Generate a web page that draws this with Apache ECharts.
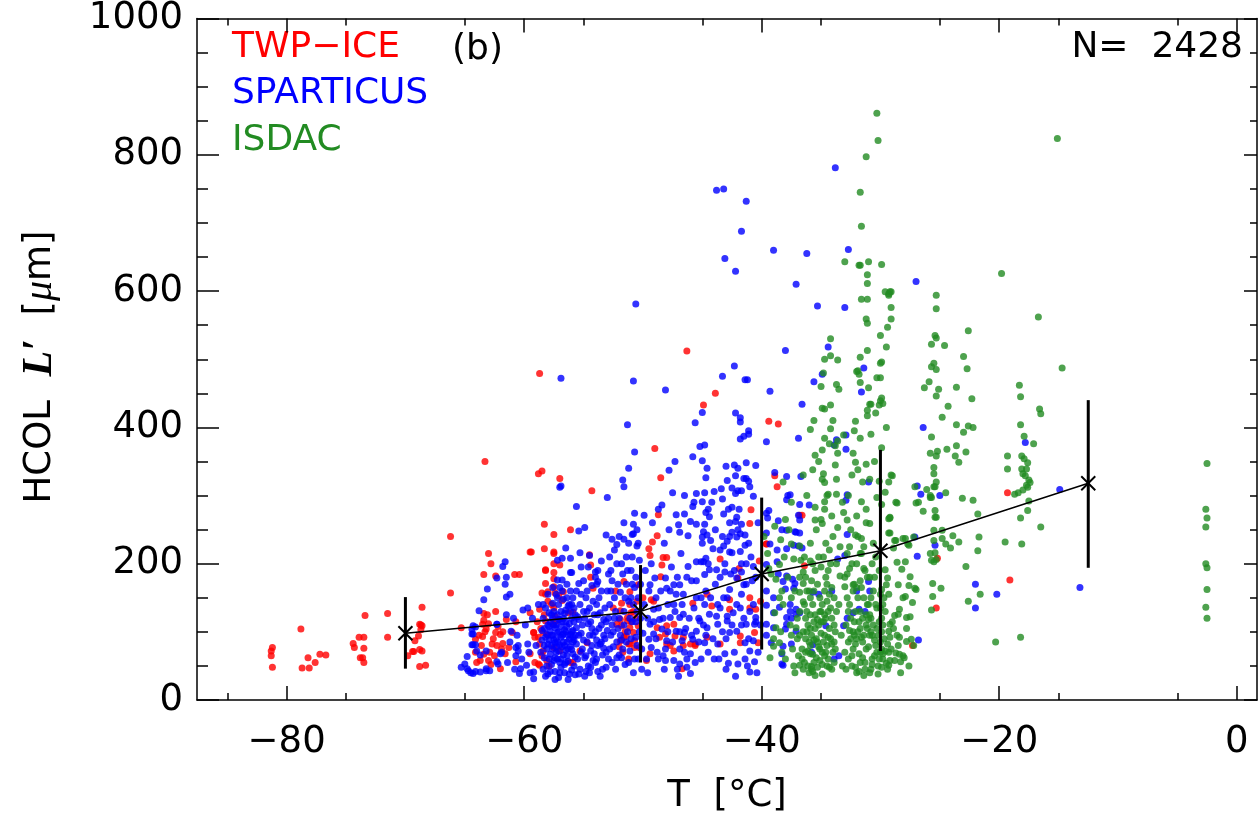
<!DOCTYPE html>
<html><head><meta charset="utf-8">
<script src="https://cdn.jsdelivr.net/npm/echarts@6/dist/echarts.min.js"></script>
<style>html,body{margin:0;padding:0;background:#fff}#c{width:1258px;height:821px}</style>
</head><body><div id="c"></div>
<script>
// ---- data: [T (°C), L' (µm)] ----
const twpIce = [
[-81.2,77],[-81.3,72],[-81.3,65],[-81.2,48],
[-78.8,104],[-78.2,62],[-78.7,47],[-78.1,47],[-77.6,55],[-77.2,67],[-76.7,66],
[-73.4,124],[-73.9,92],[-73.5,92],[-74.4,83],[-74.3,77],[-73.5,76],[-73.8,62],[-73.6,62],[-73.5,55],
[-71.5,127],[-71.5,92],
[-68.6,136],[-68.7,110],[-68.8,111],[-68.6,109],[-68.7,103],[-68.9,94],[-69.2,87],[-69.4,71],[-68.8,74],[-68.6,72],[-69.8,65],[-69.3,71],[-68.8,49],[-68.3,51],
[-66.2,240],[-66.2,157],[-65.3,106],
[-58.7,479],[-63.3,350],[-58.8,332],[-58.5,336],[-57.0,325],[-54.3,307],
[-58.3,258],[-57.5,243],[-56.1,250],[-63.0,215],[-62.8,200],[-63.4,184],[-62.4,182],[-60.8,184],[-60.4,184],
[-59.5,217],[-58.3,222],[-57.5,215],[-57.5,200],[-57.0,198],[-58.2,190],[-57.5,187],[-57.5,178],[-58.2,171],[-58.5,157],[-58.2,155],[-57.5,166],[-57.1,153],[-54.4,198],[-54.4,180],[-54.2,164],
[-63.4,127],[-63.1,125],[-63.4,117],[-62.4,130],[-63.5,111],[-63.0,112],[-63.2,104],[-61.5,118],[-60.7,115],[-62.4,99],[-62.0,96],[-64.1,89],[-63.5,93],[-62.7,82],[-62.3,80],[-61.8,83],[-61.9,75],[-61.3,77],[-64.1,70],[-63.4,67],[-62.5,65],[-61.6,68],[-64.0,55],[-63.0,58],[-62.0,46],[-61.0,99],
[-59.5,128],[-58.7,133],[-59.2,99],[-59.1,92],[-58.4,99],[-58.7,82],[-58.4,72],[-58.1,58],[-58.2,116],[-57.6,111],[-58.0,145],[-57.5,135],[-57.4,123],[-57.3,116],[-56.7,159],[-56.8,146],[-55.9,129],[-56.3,128],
[-52.5,135],[-51.9,131],[-51.8,142],[-51.1,140],[-51.3,121],[-51.0,128],[-51.8,109],[-51.1,106],[-51.4,94],[-50.8,99],[-51.2,82],[-50.7,77],[-51.2,60],[-54.7,84],[-55.3,72],[-55.9,55],[-58.8,53],[-60.7,56],
[-46.3,512],[-43.9,450],[-44.9,433],[-49.0,369],[-48.5,326],[-39.4,409],[-38.6,405],[-38.9,329],[-38.7,313],[-48.7,272],[-41.0,259],[-40.9,279],[-48.8,241],[-49.2,232],[-49.5,222],[-49.4,212],[-48.3,209],[-48.0,209],[-48.4,198],[-48.5,181],[-43.5,207],[-41.9,193],[-42.0,179],[-40.2,204],[-39.6,229],[-50.4,169],[-50.0,150],[-49.3,147],[-50.8,130],[-50.4,109],[-50.7,87],[-48.0,109],[-47.4,111],[-48.1,97],[-47.3,94],[-47.7,80],[-46.6,80],[-46.0,82],[-45.6,80],[-46.7,46],[-45.8,142],[-44.6,155],[-44.2,138],[-42.7,133],[-42.7,147],[-41.0,150],[-41.0,135],[-40.5,133],[-40.1,145],[-41.8,94],[-40.6,99],[-40.3,84],
[-19.3,304],[-25.2,208],[-19.1,176],[-25.3,135],[-27.3,80],[-36.4,197],[-36.8,271],[-39.6,229],
[-59.2,99],[-58.8,92],[-59.5,68],[-59.1,55],[-58.7,51],[-57.5,77],[-57.0,72],[-56.1,55],[-54.5,213],[-57.5,217],[-58.2,191],[-59.4,217],[-58.0,159],[-57.4,157],
[-51.6,174],[-51.1,159],[-50.5,145],[-51.3,116],[-51.6,92],[-51.1,82],[-50.3,77],[-49.7,58],[-49.4,68],[-52.2,111],[-51.9,87],[-49.1,145],[-48.8,106],[-48.0,82],[-48.6,92],[-47.4,72],[-46.6,92],[-45.6,82],[-44.6,92],[-43.5,82],[-41.8,84],[-36.6,271],
[-63.8,95],[-63.6,80],[-63.3,100],[-62.9,70],[-62.6,90],[-62.2,108],[-61.8,100],[-63.7,58],[-62.8,52],
[-58.9,115],[-58.6,105],[-58.3,125],[-58.0,95],[-57.7,140],[-58.5,65],[-57.9,50],
[-52.3,160],[-51.9,118],[-51.5,100],[-51.0,115],[-50.6,120],[-52.0,78],[-51.7,70]
];
const sparticus = [
[-43.8,748],[-43.2,750],[-41.3,732],[-41.7,688],[-43.1,648],[-42.2,629],[-39.0,660],[-36.2,655],[-33.8,781],[-37.1,610],[-32.7,661],[-27.0,614],
[-50.6,581],[-35.3,578],[-33.0,576],[-56.9,472],[-50.8,468],[-48.1,455],[-42.3,490],[-43.3,475],[-41.4,470],[-41.2,470],[-39.3,453],[-38.0,513],[-34.4,518],[-34.9,478],[-35.6,467],[-36.6,434],[-45.0,422],[-45.6,407],[-42.2,421],[-41.8,414],[-41.8,408],[-51.3,404],[-45.2,372],[-44.8,374],[-41.1,395],[-41.1,390],[-41.5,387],[-41.8,383],[-39.6,379],[-36.9,384],[-32.9,389],[-33.9,374],[-32.9,368],[-33.7,382],[-31.4,487],[-31.6,452],[-50.7,364],[-51.2,340],[-45.8,357],[-45.0,351],[-44.6,340],[-47.3,350],[-47.8,337],[-51.7,323],[-51.6,313],[-57.0,312],[-56.9,314],[-53.0,297],[-47.5,304],[-45.5,303],[-44.8,304],[-44.0,306],[-43.0,343],[-42.3,345],[-42.0,340],[-41.3,348],[-40.5,344],
[-44.7,326],[-42.9,322],[-42.2,329],[-41.5,325],[-41.3,325],[-41.1,321],[-41.0,313],[-42.5,311],[-42.0,307],[-41.7,307],[-42.2,303],[-40.7,299],[-43.3,295],[-45.0,291],
[-38.9,334],[-37.9,328],[-36.7,328],[-31.0,320],[-32.8,301],[-37.8,300],[-37.6,301],
[-26.4,400],[-17.8,378],[-26.9,314],[-26.6,302],[-25.0,300],[-14.9,309],[-27.1,239],[-25.4,227],[-26.9,211],[-22.0,170],[-20.2,155],[-22.0,135],[-13.2,165],[-26.8,88],
[-37.9,294],[-36.0,286],[-36.8,287],[-32.9,293],
[-39.6,274],[-39.5,267],[-38.6,263],[-39.6,245],[-38.3,250],[-37.2,247],[-36.8,245],[-36.9,271],[-36.8,264],
[-38.7,220],[-39.3,229],[-36.9,226],[-36.6,223],[-32.8,243],[-33.0,212],[-33.6,207],
[-39.6,199],[-38.6,185],[-37.9,182],[-37.4,177],[-37.2,171],[-38.0,163],
[-39.6,160],[-39.0,150],[-39.6,139],[-39.0,128],[-38.5,136],[-37.6,130],[-37.1,133],[-36.8,128],[-37.5,120],[-37.9,111],
[-39.6,111],[-39.0,106],[-39.6,95],[-39.2,84],[-38.2,79],[-38.3,68],[-38.2,51],
[-35.7,158],[-35.2,155],[-34.1,160],[-31.0,174],[-30.9,160],[-32.0,160],[-31.3,130],[-31.8,133],[-32.3,128],
[-33.5,65],[-33.9,60],[-35.7,81],[-35.8,70],[-34.6,109],[-32.8,120],[-33.1,109],
[-55.6,284],[-54.9,253],[-55.4,248],[-53.1,242],[-52.6,236],[-52.2,228],[-51.6,236],[-50.7,274],[-50.8,258],[-50.9,243],[-50.5,226],[-52.8,210],[-53.5,204],
[-56.5,223],[-57.2,205],[-56.8,208],[-57.2,176],[-56.8,176],[-56.1,208],[-56.1,187],[-56.0,187],[-55.3,216],[-55.2,195],[-55.4,171],[-54.5,212],[-54.0,188],[-53.8,174],
[-61.6,203],[-61.8,196],[-62.3,179],[-61.5,180],[-61.6,170],[-63.1,163],[-63.4,147],[-63.8,131],[-61.5,151],[-61.2,155],
[-61.5,125],[-62.3,111],[-64.1,107],[-64.4,97],[-64.3,81],[-64.8,64],[-65.3,48],[-64.7,43],[-64.3,39],[-63.7,41],[-63.2,46],[-62.9,43],[-62.2,53],[-61.9,70],[-61.1,101],[-60.5,80],[-60.7,65],[-60.4,39],[-59.7,82],[-59.8,51],[-59.2,41],[-59.2,31],
[-45.7,290],[-44.5,280],[-44.7,275],[-44.4,269],[-44.8,258],[-48.4,286],[-48.7,280],[-49.9,271],[-50.8,244],
[-47.2,272],[-46.5,273],[-46.0,262],[-45.5,258],[-44.9,247],[-45.0,239],[-44.6,242],[-47.0,257],[-46.9,246],[-46.2,241],[-45.8,284],
[-43.2,273],[-42.5,283],[-42.7,260],[-42.1,268],[-42.2,262],[-41.7,258],[-42.5,246],[-42.1,239],[-41.4,242],[-41.4,227],[-41.8,244],
[-42.9,233],[-43.2,226],[-42.7,217],[-42.5,216],[-41.8,218],[-41.3,200],[-40.7,196],[-41.7,188],[-42.1,179],[-41.5,169],[-41.7,155],[-42.7,162],[-43.1,188],[-43.8,191],[-44.4,191],[-44.8,184],[-45.1,203],[-44.9,203],
[-44.1,222],[-43.5,220],[-44.3,234],[-44.7,208],[-45.5,203],[-46.2,196],[-46.9,169],[-46.6,155],[-45.5,150],[-44.8,140],[-44.4,126],[-45.2,116],[-44.6,106],[-43.8,123],[-43.5,135],[-43.2,150],[-43.7,111],[-42.9,116],[-42.7,99],[-42.1,101],
[-44.8,84],[-43.7,82],[-44.5,70],[-43.1,68],[-42.8,54],[-42.0,53],[-41.0,41],[-40.6,56],[-41.0,72],[-41.4,84],[-40.7,87],[-41.3,111],[-40.5,121],[-40.6,111],[-41.0,130],[-41.8,135],[-42.4,128],[-42.9,123],
[-49.4,169],[-49.0,179],[-48.1,179],[-48.0,164],[-47.4,169],[-47.2,155],[-47.4,140],[-46.6,126],[-46.9,121],[-47.7,121],[-48.6,118],[-49.1,133],[-49.4,111],[-48.4,104],[-49.1,97],[-49.5,89],[-49.3,77],[-48.8,70],[-48.3,65],[-48.1,58],[-47.4,58],[-46.9,53],[-46.3,60],[-46.3,48],[-46.0,39],[-46.0,68],[-46.9,75],[-46.7,87],[-45.8,89],[-45.5,101],[-46.5,99],[-47.2,101],[-48.0,87],
[-39.4,278],[-37.9,249],[-37.1,246],[-37.3,227],[-37.9,222],[-38.7,203],[-38.2,174],[-37.3,164],[-37.6,140],[-37.1,126],[-37.9,121],[-38.0,104],[-37.1,101],[-38.3,53],[-37.5,82],
[-64.3,109],[-64.4,104],[-64.3,97],[-60.1,132],[-59.7,135],[-64.4,81],[-64.1,81],[-64.0,72],[-63.7,66],[-65.0,53],[-64.8,46],[-64.5,40],[-64.1,42],[-63.2,43],[-62.3,56],[-62.0,68],[-63.2,72],[-60.7,77],[-60.3,46],[-60.5,72],[-62.3,111],
[-58.3,62],[-58.1,75],[-57.9,88],[-57.8,101],[-57.6,95],[-57.5,110],[-57.4,84],[-57.3,70],[-57.2,125],[-57.1,140],[-57.0,118],[-56.9,92],[-56.8,78],[-56.7,66],[-56.6,103],[-56.5,132],[-56.4,85],[-56.3,57],[-56.2,112],[-56.1,96],[-56.0,74],[-55.9,150],[-55.8,88],[-55.7,63],[-55.6,106],
[-58.4,45],[-58.0,38],[-57.7,52],[-57.4,42],[-57.1,33],[-56.9,48],[-56.6,40],[-56.3,30],[-56.0,44],[-55.7,37],
[-57.9,128],[-57.6,142],[-57.3,155],[-57.0,165],[-56.7,148],[-56.4,170],[-56.1,160],[-55.8,135],
[-57.8,67],[-57.5,58],[-57.2,99],[-57.0,81],[-56.8,115],[-56.5,73],[-56.2,89],[-55.9,102],[-57.6,120],[-57.3,90],[-56.9,60],[-56.6,127],[-56.3,138],[-56.0,120],[-57.4,106],[-57.1,72],[-56.7,97],[-56.4,108],[-55.6,82],[-55.5,122],[-58.2,92],[-58.0,110],[-57.7,80],[-57.2,60],[-56.5,55],[-55.9,68],
[-55.3,45],[-55.2,98],[-55.0,130],[-54.9,62],[-54.8,150],[-54.7,85],[-54.6,112],[-54.5,40],[-54.4,72],[-54.3,168],[-54.2,95],[-54.1,125],[-54.0,55],[-53.9,140],[-53.8,80],[-53.7,105],[-53.6,35],[-53.5,160],[-53.4,66],[-53.3,118],[-53.2,90],[-53.1,48],[-55.1,75],[-54.8,42],[-54.5,135],[-54.2,58],[-53.9,88],[-53.6,128],[-53.3,76],[-53.0,102],[-55.4,118],[-54.0,180],[-53.8,190],[-54.6,195],[-55.0,175],
[-52.9,60],[-52.8,140],[-52.7,95],[-52.6,175],[-52.5,78],[-52.4,120],[-52.3,45],[-52.2,200],[-52.1,105],[-52.0,66],[-51.9,158],[-51.8,88],[-51.7,185],[-51.6,130],[-51.5,52],[-51.4,210],[-51.3,100],[-51.2,145],[-51.1,72],[-51.0,190],[-50.9,115],[-50.8,40],[-50.7,165],[-50.6,92],[-50.5,130],[-50.4,60],[-50.3,205],[-52.6,110],[-52.2,85],[-51.8,62],[-51.4,170],[-51.0,150],[-50.6,180],[-52.9,185],[-52.4,220],[-51.2,230],[-50.5,250],[-50.2,120],[-50.1,75],[-50.0,98],
[-49.8,190],[-49.6,120],[-49.2,260],[-48.9,150],[-48.7,60],[-48.2,230],[-47.9,140],[-47.6,195],[-47.1,45],[-46.8,215],[-46.4,105],[-45.9,175],[-45.3,120],[-45.1,60],[-44.7,95],[-47.8,250],[-46.5,300],[-45.0,230],
[-43.9,170],[-43.6,60],[-43.3,240],[-43.0,90],[-42.6,185],[-42.3,70],[-42.0,250],[-41.7,110],[-41.4,60],[-41.1,230],[-40.8,175],[-40.5,115],[-40.3,260],[-44.2,290],[-43.4,310],[-42.8,280],
[-58.6,70],[-58.5,88],[-58.4,120],[-58.3,105],[-58.2,135],[-58.1,50],[-58.0,82],[-57.9,60],[-57.8,115],[-57.7,95],[-57.6,75],[-57.5,130],[-57.4,62],[-57.3,110],[-57.2,85],[-57.1,100],[-57.0,55],[-56.9,130],[-56.8,95],[-56.7,120],[-56.6,80],[-56.5,100],[-56.4,65],[-56.3,95],[-56.2,140],[-56.1,78],[-56.0,100],[-55.9,85],[-55.8,115],[-55.7,95],
[-58.5,102],[-58.3,80],[-58.1,96],[-57.9,108],[-57.7,125],[-57.5,88],[-57.3,78],[-57.1,118],[-56.9,108],[-56.7,85],[-56.5,115],[-56.3,75],[-56.1,130],[-55.9,92],[-55.7,125],
[-58.4,140],[-58.0,155],[-57.6,165],[-57.2,150],[-56.8,160],[-56.4,150],[-56.0,140],[-55.6,160],
[-58.2,35],[-57.8,42],[-57.4,30],[-57.0,40],[-56.6,52],[-56.2,38],[-55.8,50],
[-55.5,60],[-55.4,95],[-55.3,140],[-55.2,70],[-55.1,110],[-55.0,88],[-54.9,120],[-54.8,65],[-54.7,160],[-54.6,50],[-54.5,95],[-54.4,115],[-54.3,80],[-54.2,145],[-54.1,68],[-54.0,100],[-53.9,60],[-53.8,125],[-53.7,150],[-53.6,82],[-53.5,110],[-53.4,45],[-53.3,95],[-53.2,135],[-53.1,70],[-53.0,160],
[-55.2,155],[-54.7,130],[-54.3,105],[-53.9,170],[-53.5,85],[-53.1,115],[-55.4,38],[-54.9,35],[-54.4,48],[-53.8,42],
[-52.9,120],[-52.8,75],[-52.7,160],[-52.6,55],[-52.5,100],[-52.4,150],[-52.3,130],[-52.2,62],[-52.1,170],[-52.0,120],[-51.9,95],[-51.8,200],[-51.7,75],[-51.6,110],[-51.5,150],[-51.4,85],[-51.3,190],[-51.2,55],[-51.1,120],[-51.0,90],[-50.9,170],[-50.8,140],[-50.7,60],[-50.6,115],[-50.5,80],[-50.4,150],[-50.3,100],[-50.2,170],[-50.1,45],[-52.7,190],[-52.0,240],[-51.6,260],[-50.9,210],[-50.4,230],
[-49.9,140],[-49.7,60],[-49.5,160],[-49.3,200],[-49.1,115],[-48.9,90],[-48.7,135],[-48.5,160],[-48.3,120],[-48.1,75],[-47.9,100],[-47.7,160],[-47.5,85],[-47.3,130],[-47.1,180],[-46.9,100],[-46.7,140],[-46.5,70],[-46.3,180],[-46.1,120],[-45.9,95],[-45.7,135],[-45.5,175],[-45.3,85],[-45.1,150],[-49.6,40],[-48.2,45],[-47.0,35],[-45.6,55],
[-44.9,110],[-44.7,160],[-44.5,200],[-44.3,150],[-44.1,90],[-43.9,250],[-43.7,140],[-43.5,180],[-43.3,100],[-43.1,200],[-42.9,150],[-42.7,240],[-42.5,110],[-42.3,190],[-42.1,140],[-41.9,280],[-41.7,200],[-41.5,120],[-41.3,170],[-41.1,90],[-40.9,210],[-40.7,140],[-40.5,180],[-40.3,70],[-40.1,110],[-44.0,60],[-43.0,45],[-42.2,35],[-41.2,50],[-40.4,40],
[-61.2,85],[-60.9,120],[-60.6,95],[-60.2,60],[-59.9,110],[-59.6,70],[-59.3,120],[-59.0,80],[-58.8,140],[-61.4,55],[-60.8,45],[-59.5,40]
];
const isdac = [
[-30.3,861],[-30.2,821],[-31.2,797],[-31.7,745],[-31.6,695],[-33.0,643],[-31.7,638],[-31.0,643],[-29.9,639],[-31.1,624],[-31.1,611],[-15.1,824],[-19.8,626],
[-29.6,599],[-29.2,599],[-29.1,599],[-29.3,594],[-29.1,576],[-29.1,559],[-29.4,547],[-30.0,535],[-29.5,518],[-29.9,496],[-30.0,473],[-29.9,443],[-29.8,435],
[-25.3,594],[-25.3,574],[-25.4,535],[-25.3,531],[-25.7,522],[-24.6,520],[-22.6,542],[-23.0,504],[-22.7,486],[-25.5,494],[-25.7,489],[-25.3,485],[-25.9,467],[-26.3,458],[-25.1,456],[-25.3,446],[-23.6,459],[-24.3,431],[-24.8,415],[-22.3,442],
[-16.7,562],[-14.7,487],
[-18.3,462],[-18.2,445],[-16.6,427],[-16.5,420],[-18.2,404],[-17.9,387],[-17.1,376],[-19.3,358],[-19.3,339],[-18.1,358],[-17.9,354],[-17.6,348],[-18.1,339],[-17.7,339],[-18.0,332],[-17.8,329],[-17.5,323],[-17.4,319],[-17.6,312],[-18.0,308],[-18.4,304],[-18.7,302],
[-23.6,404],[-22.6,402],[-22.2,400],[-23.0,393],[-25.7,386],[-25.8,362],[-25.2,365],[-25.3,358],[-23.6,373],[-23.7,358],[-22.8,364],[-23.4,349],[-24.4,368],[-25.5,341],[-25.5,332],[-25.3,320],[-26.1,309],[-25.5,313],[-25.8,297],[-24.5,304],[-23.1,296],[-22.2,293],[-29.0,329],[-29.6,305],[-27.1,313],
[-17.7,315],[-17.5,292],[-18.2,267],[-17.6,278],[-16.5,254],[-19.5,232],[-18.1,229],[-20.3,85],[-18.2,92],
[-21.8,273],[-21.7,239],[-21.8,219],[-22.8,196],[-21.6,155],[-22.6,145],
[-23.4,232],[-24.1,223],[-23.9,241],[-24.8,237],[-24.5,229],[-25.6,152],[-25.6,171],[-24.9,164],[-25.7,132],
[-25.4,313],[-25.7,297],[-25.8,300],[-26.4,277],[-26.8,290],[-27.0,289],[-25.4,278],[-25.4,268],[-25.3,268],[-25.5,249],[-24.8,249],[-25.5,234],[-25.4,216],[-25.3,206],[-25.7,205],[-25.5,203],[-25.8,215],
[-27.2,239],[-27.6,227],[-27.9,237],[-28.8,234],[-29.2,245],[-29.3,266],[-29.2,268],[-28.7,290],[-29.9,287],
[-29.6,191],[-29.4,179],[-29.5,169],[-29.3,155],[-29.9,162],[-28.5,169],[-28.6,202],[-27.9,203],[-28.2,192],[-27.5,181],[-27.6,168],[-27.0,162],[-27.1,164],[-28.4,133],[-28.8,124],[-28.5,126],[-27.8,121],[-27.5,122],[-27.3,143],[-28.1,150],[-27.9,152],[-27.4,89],[-27.2,80],[-27.8,86],[-28.4,92],[-29.2,111],[-28.9,105],[-29.3,101],[-29.2,92],[-29.4,82],[-29.3,70],[-28.7,69],[-28.4,67],[-28.1,65],[-28.3,56],[-29.2,58],[-29.3,51],[-29.5,54],[-29.9,48],[-29.8,68],[-30.0,135],
[-2.6,280],[-2.5,267],[-2.6,254],[-2.6,200],[-2.5,194],[-2.5,162],[-2.6,136],[-2.5,120],[-2.5,347],
[-31.8,638],[-31.1,588],[-31.6,588],[-29.3,596],[-31.2,559],[-31.1,553],[-31.1,513],[-31.7,503],[-32.0,482],[-31.8,478],[-31.0,458],[-30.3,473],[-30.0,494],[-30.0,439],[-30.8,434],[-31.1,425],[-31.1,417],[-30.4,421],
[-34.2,530],[-34.2,505],[-34.7,500],[-33.6,499],[-33.7,463],[-33.5,456],[-34.8,480],[-34.2,433],[-34.7,427],[-35.9,397],[-34.2,398],[-33.6,380],[-33.1,389],[-34.7,384],[-34.9,367],[-35.5,359],[-34.3,376],[-33.8,373],[-33.6,362],
[-31.9,483],[-31.7,466],[-30.9,434],[-30.1,433],[-32.1,409],[-32.2,395],[-31.7,384],[-32.3,362],[-32.1,349],[-31.9,338],[-31.2,346],[-30.9,324],[-30.1,321],[-30.3,297],[-29.3,320],[-29.1,330],[-28.6,289],[-29.2,267],[-29.3,245],[-28.7,234],[-28.1,237],[-27.7,229],[-28.9,223],
[-39.4,193],[-38.8,177],[-38.5,199],[-38.3,160],[-38.5,150],[-38.9,128],[-38.8,106],[-39.0,90],[-39.0,79],[-39.3,62],[-38.3,70],[-38.5,84],[-37.5,229],[-36.8,226],[-37.3,207],[-35.9,204],[-36.5,188],[-36.5,171],[-36.8,158],[-36.5,144],[-37.1,106],[-37.5,95],[-36.8,51],[-35.8,49],[-35.9,68],[-36.8,95],
[-34.9,428],[-35.7,338],[-34.8,332],[-34.9,324],[-34.7,319],[-33.7,324],[-34.4,302],[-33.7,302],[-34.7,291],[-35.5,283],[-34.7,280],[-35.5,264],[-34.9,259],[-34.1,270],[-33.1,275],[-33.6,253],
[-32.8,264],[-32.0,270],[-31.6,291],[-31.2,280],[-30.9,259],[-32.1,242],[-31.6,237],[-31.7,215],[-32.8,215],[-32.6,193],[-33.4,182],[-33.0,166],[-32.3,169],[-31.4,193],
[-36.4,55],[-36.3,90],[-36.2,130],[-36.1,72],[-36.0,160],[-35.9,105],[-35.8,45],[-35.7,140],[-35.6,88],[-35.5,190],[-35.4,62],[-35.3,118],[-35.2,78],[-35.1,150],[-35.0,98],[-34.9,52],[-34.8,210],[-34.7,125],[-34.6,70],[-34.5,170],[-34.4,92],[-34.3,48],[-34.2,135],[-34.1,82],[-34.0,240],[-33.9,110],[-36.3,180],[-35.9,230],[-35.4,250],[-35.0,265],[-34.6,230],[-34.2,200],[-36.0,40],[-35.5,36],[-34.9,38],[-34.4,60],[-33.8,75],[-36.2,100],[-35.7,67],[-35.3,85],[-34.8,115],[-34.5,145],[-35.9,125],[-35.2,210],[-34.7,95],[-34.1,165],[-36.4,210],[-35.6,115],[-35.0,130],[-34.3,105],[-33.9,55],[-35.8,175],[-35.1,58],[-34.6,180],
[-32.7,60],[-32.6,140],[-32.5,90],[-32.4,200],[-32.3,75],[-32.2,115],[-32.1,48],[-32.0,165],[-31.9,100],[-31.8,68],[-31.7,130],[-31.6,215],[-31.5,85],[-31.4,150],[-31.3,55],[-31.2,110],[-31.1,180],[-31.0,78],[-30.9,125],[-30.8,45],[-30.7,95],[-30.6,160],[-30.5,65],[-30.4,140],[-30.3,105],[-30.2,50],[-30.1,190],[-30.0,85],[-29.9,120],[-29.8,60],[-32.5,250],[-31.9,240],[-31.2,260],[-30.6,230],[-29.7,150],[-32.0,40],[-31.4,36],[-30.9,40],[-30.2,38],[-32.6,102],[-32.1,82],[-31.6,92],[-31.0,118],[-30.5,88],[-30.0,70],[-32.3,160],[-31.7,175],[-31.1,140],[-30.7,200],[-29.9,100],[-32.8,185],[-31.5,62],[-30.8,150],
[-29.4,45],[-29.1,75],[-28.8,58],[-28.6,95],[-28.3,40],[-28.0,62],[-27.8,105],[-27.6,50],[-29.0,115],[-28.5,80],
[-33.5,140],[-33.3,95],[-33.2,50],[-33.0,180],[-33.4,225],[-37.0,120],[-36.8,180],[-36.6,75],[-37.2,40],[-37.5,150],
[-39.8,240],[-39.5,215],[-39.2,185],[-38.9,255],[-38.4,235],[-38.0,265],
[-35.2,350],[-34.5,300],[-33.8,345],[-36.2,300],[-35.6,410],[-32.7,300],[-30.5,350],[-29.5,400],[-29.9,370],[-30.8,390],[-31.5,320],[-32.4,330],[-33.2,290],[-34.0,410],[-35.0,460],[-36.5,330],[-37.5,290],[-38.2,320],
[-36.6,60],[-36.5,100],[-36.4,140],[-36.3,70],[-36.2,160],[-36.1,110],[-36.0,85],[-35.9,150],[-35.8,95],[-35.7,200],[-35.6,55],[-35.5,125],[-35.4,90],[-35.3,170],[-35.2,110],[-35.1,75],[-35.0,195],[-34.9,140],[-34.8,85],[-34.7,160],[-34.6,120],[-34.5,50],[-34.4,130],[-34.3,220],[-34.2,90],[-34.1,120],[-34.0,70],[-33.9,150],[-33.8,100],[-33.7,200],
[-36.5,45],[-36.1,50],[-35.7,42],[-35.3,48],[-34.9,70],[-34.5,80],[-34.1,45],[-33.7,130],
[-36.3,120],[-35.9,80],[-35.5,105],[-35.1,130],[-34.7,65],[-34.3,155],[-33.9,85],[-35.6,160],[-35.0,115],[-34.4,190],
[-33.0,70],[-32.9,110],[-32.8,150],[-32.7,85],[-32.6,225],[-32.5,120],[-32.4,65],[-32.3,100],[-32.2,170],[-32.1,130],[-32.0,90],[-31.9,150],[-31.8,115],[-31.7,55],[-31.6,165],[-31.5,120],[-31.4,95],[-31.3,190],[-31.2,75],[-31.1,105],[-31.0,140],[-30.9,95],[-30.8,120],[-30.7,60],[-30.6,110],[-30.5,180],[-30.4,80],[-30.3,135],[-30.2,95],[-30.1,115],[-30.0,155],[-29.9,75],[-29.8,110],[-29.7,90],[-29.6,130],
[-32.9,45],[-32.4,50],[-31.8,42],[-31.3,45],[-30.7,52],[-30.1,60],[-29.6,72],
[-32.7,130],[-32.2,95],[-31.7,105],[-31.2,125],[-30.8,100],[-30.3,70],[-29.8,140],[-32.0,200],[-31.4,225],[-30.9,180],[-30.4,210],
[-38.4,100],[-38.2,140],[-38.0,60],[-37.8,180],[-37.6,110],[-37.4,75],[-37.2,160],[-37.0,90],[-36.8,130],[-36.7,205],[-38.1,210],[-37.7,250],[-37.3,50],[-36.9,65]
];
// binned means with spread bars
const binT    = [-70, -50.2, -40, -30, -12.5];
const binMean = [98, 130, 185, 219, 318];
const binLow  = [46, 55, 74, 72, 194];
const binHigh = [151, 198, 297, 367, 440];
// tick labels
const xMajorTicks = [-80, -60, -40, -20, 0];
const xMinorTicks = [-85, -75, -65, -55, -45, -35, -25, -15, -5];

const FONT = 'DejaVu Sans';
const fmtX = v => (v < 0 ? '\u2212' + Math.abs(v) : String(v));
const X_MIN = -87.55, X_MAX = 1.71;
const lineBlack = { color: '#000', width: 1.5 };

function xAx(pos, ticks, len, showLine, showLabel) {
  const a = {
    type: 'value', position: pos, min: X_MIN, max: X_MAX,
    splitLine: { show: false },
    axisLine: { show: showLine, onZero: false, lineStyle: lineBlack },
    axisTick: { show: true, inside: true, length: len, customValues: ticks, lineStyle: lineBlack },
    axisLabel: { show: false }
  };
  if (showLabel) {
    a.axisLabel = { show: true, customValues: ticks, formatter: fmtX, fontSize: 37, fontFamily: FONT, color: '#000', margin: 24 };
    a.name = 'T  [°C]';
    a.nameLocation = 'middle';
    a.nameGap = 78;
    a.nameTextStyle = { fontSize: 37, fontFamily: FONT, color: '#000' };
  }
  return a;
}
function yAx(pos, len, minLen, showLabel) {
  return {
    type: 'value', position: pos, min: 0, max: 1000, interval: 200,
    splitLine: { show: false },
    axisLine: { show: true, onZero: false, lineStyle: lineBlack },
    axisTick: { show: true, inside: true, length: len, lineStyle: lineBlack },
    minorTick: { show: true, splitNumber: 4, length: minLen, lineStyle: lineBlack },
    axisLabel: showLabel ? { show: true, fontSize: 37, fontFamily: FONT, color: '#000', margin: 14, formatter: v => String(v) } : { show: false }
  };
}

const chart = echarts.init(document.getElementById('c'), null, { renderer: 'canvas' });
const bins = binT.map((t, i) => [t, binMean[i], binLow[i], binHigh[i]]);

chart.setOption({
  backgroundColor: '#fff',
  animation: false,
  grid: { left: 197, right: 1, top: 10, bottom: 121, containLabel: false },
  xAxis: [
    xAx('bottom', xMajorTicks, 14, true, true),
    xAx('bottom', xMinorTicks, 7, false, false),
    xAx('top', xMajorTicks, 14, true, false),
    xAx('top', xMinorTicks, 7, false, false)
  ],
  yAxis: [ yAx('left', 22, 11, true), yAx('right', 13, 7, false) ],
  series: [
    { type: 'scatter', data: twpIce, symbol: 'circle', symbolSize: 7, itemStyle: { color: '#ff0000' }, z: 2 },
    { type: 'scatter', data: sparticus, symbol: 'circle', symbolSize: 7, itemStyle: { color: '#0000ff' }, z: 3 },
    { type: 'scatter', data: isdac, symbol: 'circle', symbolSize: 7, itemStyle: { color: '#228b22' }, z: 4 },
    { type: 'line', data: bins.map(b => [b[0], b[1]]), symbol: 'none', lineStyle: { color: '#000', width: 1.5 }, z: 10 },
    { type: 'custom', data: bins, z: 11, encode: { x: 0, y: 1 },
      renderItem: function (params, api) {
        const c = api.coord([api.value(0), api.value(1)]);
        const lo = api.coord([api.value(0), api.value(2)]);
        const hi = api.coord([api.value(0), api.value(3)]);
        const s = 7;
        const st = { stroke: '#000', lineWidth: 2 };
        return { type: 'group', children: [
          { type: 'line', shape: { x1: lo[0], y1: lo[1], x2: hi[0], y2: hi[1] }, style: { stroke: '#000', lineWidth: 3 } },
          { type: 'line', shape: { x1: c[0] - s, y1: c[1] - s, x2: c[0] + s, y2: c[1] + s }, style: st },
          { type: 'line', shape: { x1: c[0] - s, y1: c[1] + s, x2: c[0] + s, y2: c[1] - s }, style: st }
        ] };
      }
    }
  ],
  graphic: [
    { type: 'text', x: 232, y: 48, style: { text: 'TWP\u2212ICE', fill: '#ff0000', fontSize: 36, fontFamily: FONT, verticalAlign: 'middle', align: 'left' } },
    { type: 'text', x: 452, y: 50, style: { text: '(b)', fill: '#000', fontSize: 36, fontFamily: FONT, verticalAlign: 'middle', align: 'left' } },
    { type: 'text', x: 232, y: 94, style: { text: 'SPARTICUS', fill: '#0000ff', fontSize: 36, fontFamily: FONT, verticalAlign: 'middle', align: 'left' } },
    { type: 'text', x: 232, y: 141, style: { text: 'ISDAC', fill: '#228b22', fontSize: 36, fontFamily: FONT, verticalAlign: 'middle', align: 'left' } },
    { type: 'text', x: 1243, y: 48, style: { text: 'N=  2428', fill: '#000', fontSize: 36, fontFamily: FONT, verticalAlign: 'middle', align: 'right' } },
    { type: 'text', x: 40, y: 367, rotation: Math.PI / 2,
      style: { text: '{n|HCOL  }{i|L\u2032}{n|  [}{m|\u03bc}{n|m]}', align: 'center', verticalAlign: 'middle', fill: '#000',
        rich: {
          n: { fontSize: 37, fontFamily: FONT, fill: '#000' },
          i: { fontSize: 42, fontFamily: 'Liberation Serif', fontStyle: 'italic', fontWeight: 'bold', fill: '#000' },
          m: { fontSize: 40, fontFamily: 'Liberation Serif', fontStyle: 'italic', fill: '#000' }
        } } }
  ]
});
</script>
</body></html>
